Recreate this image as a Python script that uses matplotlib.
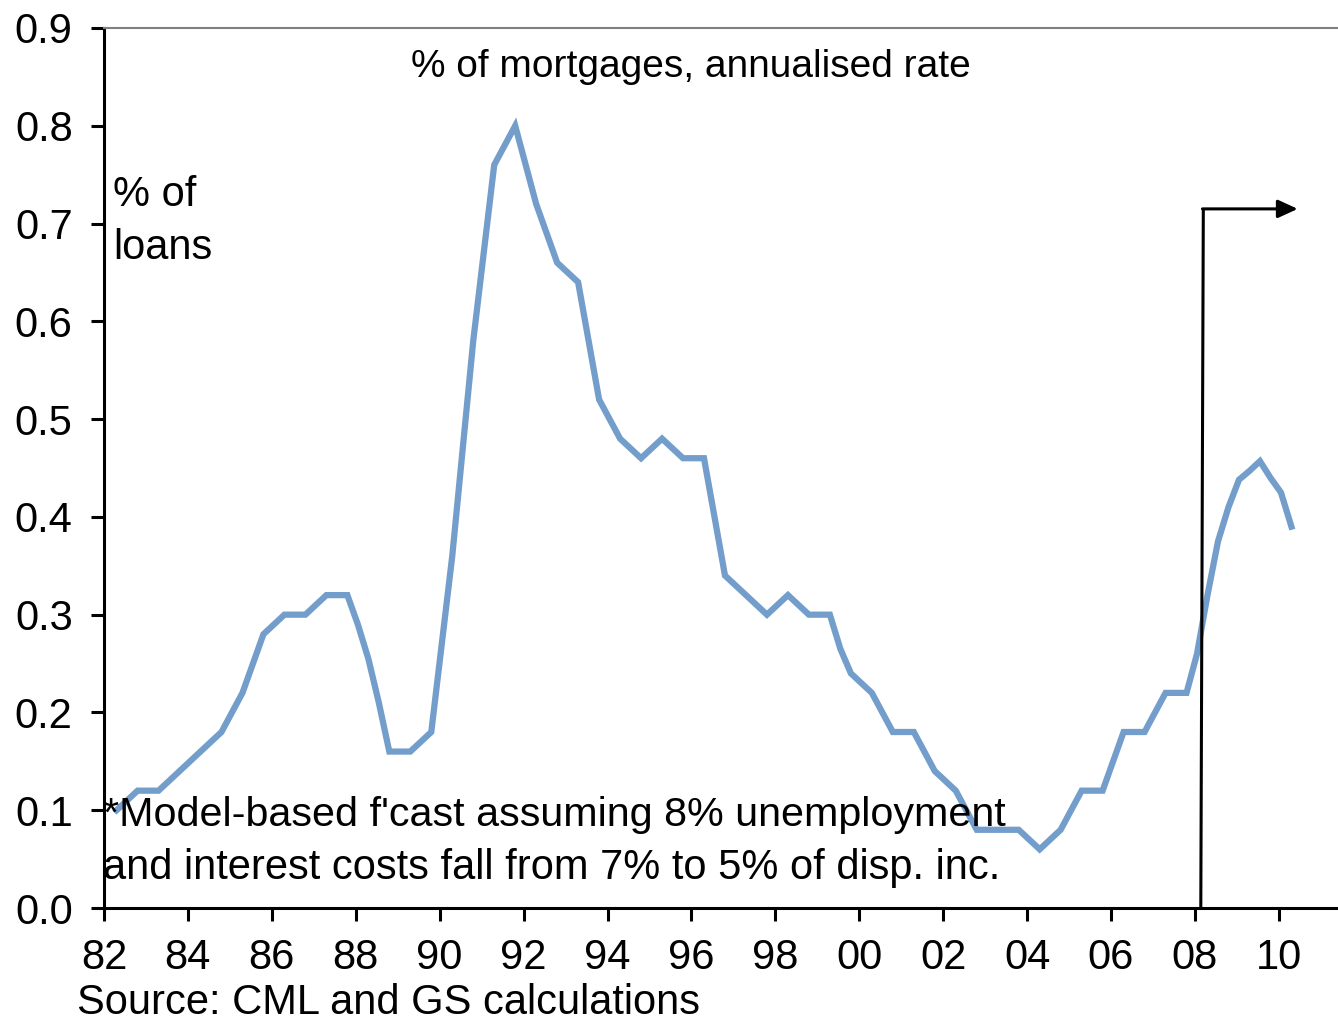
import matplotlib
matplotlib.use("Agg")
import matplotlib.pyplot as plt
import numpy as np

plt.rcParams['font.family'] = ['Liberation Sans', 'DejaVu Sans']

# Quarterly arrears rate (% of loans), starting 1982.3
start_year = 1982.3
values = [
    0.10, 0.11, 0.12, 0.12, 0.12, 0.13, 0.14, 0.15, 0.16, 0.17,
    0.18, 0.20, 0.22, 0.25, 0.28, 0.29, 0.30, 0.30, 0.30, 0.31,
    0.32, 0.32, 0.32, 0.29, 0.255, 0.21, 0.16, 0.16, 0.16, 0.17,
    0.18, 0.27, 0.36, 0.47, 0.58, 0.67, 0.76, 0.78, 0.80, 0.76,
    0.72, 0.69, 0.66, 0.65, 0.64, 0.58, 0.52, 0.50, 0.48, 0.47,
    0.46, 0.47, 0.48, 0.47, 0.46, 0.46, 0.46, 0.40, 0.34, 0.33,
    0.32, 0.31, 0.30, 0.31, 0.32, 0.31, 0.30, 0.30, 0.30, 0.265,
    0.24, 0.23, 0.22, 0.20, 0.18, 0.18, 0.18, 0.16, 0.14, 0.13,
    0.12, 0.10, 0.08, 0.08, 0.08, 0.08, 0.08, 0.07, 0.06, 0.07,
    0.08, 0.10, 0.12, 0.12, 0.12, 0.15, 0.18, 0.18, 0.18, 0.20,
    0.22, 0.22, 0.22, 0.26, 0.32, 0.375, 0.41, 0.438, 0.447, 0.457,
    0.44, 0.425, 0.39,
]
x_tick_years = list(range(1982, 2011, 2))
x_tick_labels = ["82", "84", "86", "88", "90", "92", "94", "96", "98", "00",
                 "02", "04", "06", "08", "10"]
y_ticks = [0.0, 0.1, 0.2, 0.3, 0.4, 0.5, 0.6, 0.7, 0.8, 0.9]
forecast_start_bottom = 2008.14
forecast_start_top = 2008.2
forecast_arrow_end = 2010.45
forecast_level = 0.715

years = start_year + 0.25 * np.arange(len(values))

fig = plt.figure(figsize=(13.38, 10.22), dpi=100)
ax = fig.add_axes([104/1338, 1 - 908/1022, 1 - 104/1338, (908 - 28)/1022])

ax.plot(years, values, color="#739DCA", lw=4.5, solid_joinstyle="miter")

ax.set_xlim(1982, 2011.41)
ax.set_ylim(0, 0.9)
ax.set_xticks(x_tick_years)
ax.set_xticklabels(x_tick_labels)
ax.set_yticks(y_ticks)
ax.set_yticklabels([f"{v:.1f}" for v in y_ticks])

ax.tick_params(axis="both", direction="out", length=9.5, width=2.2, labelsize=30,
               colors="black")
ax.tick_params(axis="x", pad=12)
ax.tick_params(axis="y", pad=13)

ax.spines["right"].set_visible(False)
ax.spines["top"].set_color("#808080")
ax.spines["top"].set_linewidth(1.5)
ax.spines["left"].set_linewidth(2.2)
ax.spines["bottom"].set_linewidth(2.2)

# forecast marker
ax.plot([forecast_start_bottom, forecast_start_top], [0, forecast_level], color="black",
        lw=2.2, solid_capstyle="butt")
ax.annotate("", xy=(forecast_arrow_end, forecast_level),
            xytext=(forecast_start_top - 0.02, forecast_level),
            arrowprops=dict(arrowstyle="-|>,head_length=1.2,head_width=0.55",
                            color="black", lw=2.2, shrinkA=0, shrinkB=0))

fig.text(691/1338, 1 - 67/1022, "% of mortgages, annualised rate",
         ha="center", va="center", fontsize=28)
fig.text(113/1338, 1 - 195/1022, "% of", ha="left", va="center", fontsize=30)
fig.text(113/1338, 1 - 248/1022, "loans", ha="left", va="center", fontsize=30)
fig.text(103/1338, 1 - 815/1022, "*Model-based f'cast assuming 8% unemployment",
         ha="left", va="center", fontsize=29.7)
fig.text(103/1338, 1 - 868/1022, "and interest costs fall from 7% to 5% of disp. inc.",
         ha="left", va="center", fontsize=30)
fig.text(77/1338, 1 - 1003/1022, "Source: CML and GS calculations",
         ha="left", va="center", fontsize=30)

fig.savefig("out.png", dpi=100)
